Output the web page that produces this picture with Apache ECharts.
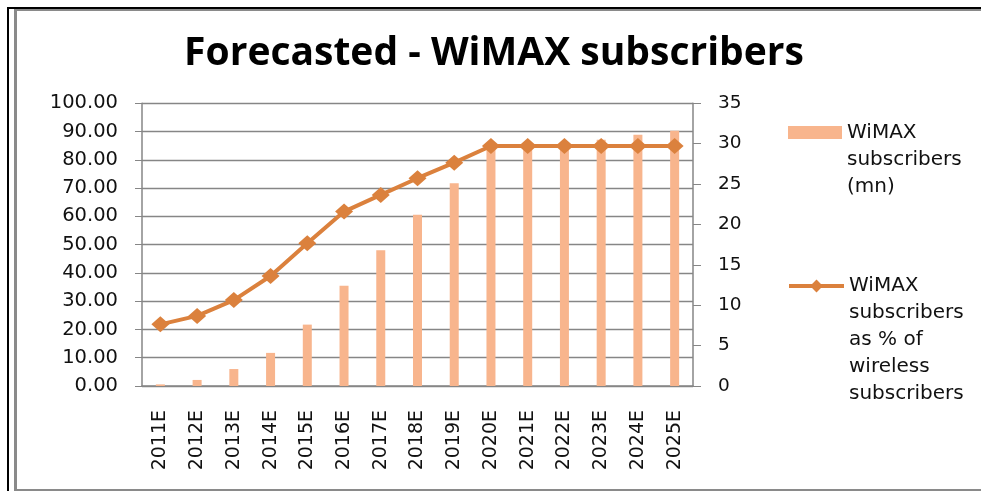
<!DOCTYPE html>
<html>
<head>
<meta charset="utf-8">
<script src="https://cdn.jsdelivr.net/npm/echarts@6/dist/echarts.min.js"></script>
<style>
  html, body { margin: 0; padding: 0; background: #fff; }
  #chart { width: 981px; height: 491px; }
</style>
</head>
<body>
<div id="chart"></div>
<script>
// Forecast years
const years = ['2011E','2012E','2013E','2014E','2015E','2016E','2017E','2018E','2019E','2020E','2021E','2022E','2023E','2024E','2025E'];
// WiMAX subscribers, millions (right axis)
const subscribersMn = [0.2, 0.75, 2.1, 4.1, 7.6, 12.4, 16.8, 21.2, 25.1, 29.6, 29.9, 30.2, 30.5, 31.1, 31.6];
// WiMAX subscribers as a share of all wireless subscribers, % (left axis)
const sharePct = [21.8, 24.8, 30.4, 38.9, 50.5, 61.7, 67.6, 73.5, 79.0, 84.9, 84.9, 84.9, 84.9, 84.9, 84.9];

const barName = 'WiMAX subscribers (mn)';
const lineName = 'WiMAX subscribers as % of wireless subscribers';

// Legend labels are wrapped; leading blank lines keep the icon level with the first line
const legendLines = {};
legendLines[barName] = ['WiMAX', 'subscribers', '(mn)'];
legendLines[lineName] = ['WiMAX', 'subscribers', 'as % of', 'wireless', 'subscribers'];
function wrapLegend(name) {
  const lines = legendLines[name];
  return '\n'.repeat(lines.length - 1) + lines.join('\n');
}

const barColor = '#F8B58D';
const lineColor = '#DB813D';
const gridColor = '#868686';
const labelFont = 'DejaVu Sans';

const chart = echarts.init(document.getElementById('chart'), null, { renderer: 'canvas' });

chart.setOption({
  backgroundColor: '#ffffff',
  animation: false,
  title: {
    text: 'Forecasted - WiMAX subscribers',
    left: 489,
    top: 29,
    textAlign: 'center',
    textStyle: { fontFamily: 'Open Sans', fontWeight: 'bold', fontSize: 39, color: '#000' }
  },
  legend: [
    {
      data: [barName],
      left: 788, top: 65, padding: 0,
      orient: 'vertical',
      icon: 'rect', itemWidth: 54, itemHeight: 13,
      formatter: wrapLegend,
      textStyle: { fontFamily: labelFont, fontSize: 20, lineHeight: 27, color: '#111' }
    },
    {
      data: [lineName],
      left: 787, top: 164.5, padding: 0,
      orient: 'vertical',
      itemWidth: 55, itemHeight: 16,
      formatter: wrapLegend,
      lineStyle: { width: 4 },
      textStyle: { fontFamily: labelFont, fontSize: 20, lineHeight: 27, color: '#111' }
    }
  ],
  grid: { left: 142, right: 288, top: 103.3, bottom: 105, containLabel: false },
  xAxis: {
    type: 'category',
    data: years,
    boundaryGap: true,
    axisLine: { lineStyle: { color: gridColor, width: 1.5 } },
    axisTick: { show: false },
    axisLabel: { rotate: 90, margin: 24, fontFamily: labelFont, fontSize: 19, color: '#111', interval: 0 }
  },
  yAxis: [
    {
      type: 'value', min: 0, max: 100, interval: 10,
      axisLine: { show: true, lineStyle: { color: gridColor, width: 1.5 } },
      axisTick: { show: true, length: 7, lineStyle: { color: gridColor } },
      splitLine: { lineStyle: { color: gridColor, width: 1.3 } },
      axisLabel: { margin: 24, fontFamily: labelFont, fontSize: 19.5, color: '#111', formatter: v => v.toFixed(2) }
    },
    {
      type: 'value', min: 0, max: 35, interval: 5, position: 'right',
      axisLine: { show: true, lineStyle: { color: gridColor, width: 1.5 } },
      axisTick: { show: true, length: 8, lineStyle: { color: gridColor } },
      splitLine: { show: false },
      axisLabel: { margin: 25, fontFamily: labelFont, fontSize: 18.5, color: '#111' }
    }
  ],
  series: [
    {
      name: barName,
      type: 'bar',
      yAxisIndex: 1,
      data: subscribersMn,
      barWidth: 9,
      itemStyle: { color: barColor },
      z: 2
    },
    {
      name: lineName,
      type: 'line',
      yAxisIndex: 0,
      data: sharePct,
      symbol: 'diamond',
      symbolSize: [18, 16],
      showAllSymbol: true,
      lineStyle: { color: lineColor, width: 4 },
      itemStyle: { color: lineColor },
      z: 3
    }
  ],
  graphic: [
    // outer dark frame (top and left)
    { type: 'rect', shape: { x: 7, y: 7, width: 974, height: 2 }, style: { fill: '#000' }, silent: true },
    { type: 'rect', shape: { x: 7, y: 7, width: 2, height: 484 }, style: { fill: '#000' }, silent: true },
    // inner grey frame
    { type: 'rect', shape: { x: 14, y: 9, width: 967, height: 2 }, style: { fill: '#8a8a8a' }, silent: true },
    { type: 'rect', shape: { x: 14, y: 9, width: 3, height: 482 }, style: { fill: '#8a8a8a' }, silent: true },
    { type: 'rect', shape: { x: 14, y: 489, width: 967, height: 2 }, style: { fill: '#8a8a8a' }, silent: true }
  ]
});
</script>
</body>
</html>
